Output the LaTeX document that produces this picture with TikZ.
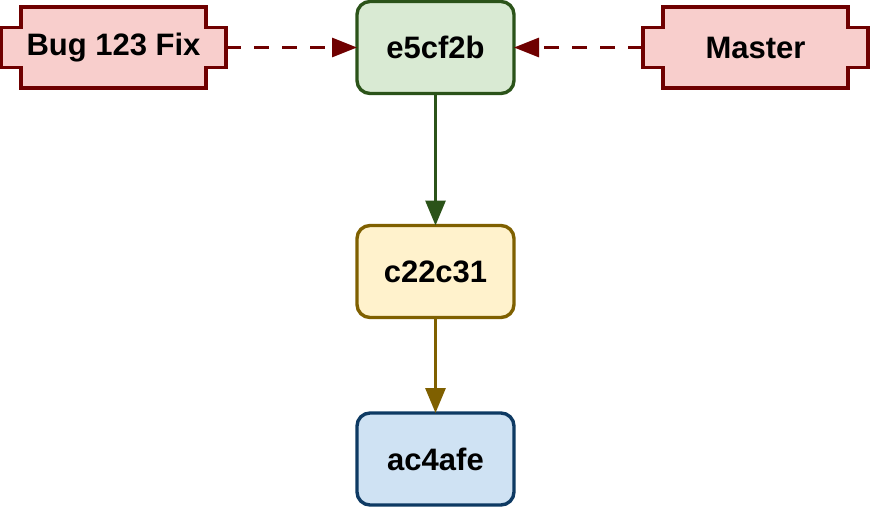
\documentclass[tikz,border=0pt]{standalone}
\usepackage{fontspec}
\setmainfont{Liberation Sans}
\usetikzlibrary{arrows.meta,backgrounds}
\definecolor{redfill}{HTML}{F8CECC}
\definecolor{redline}{HTML}{6F0000}
\definecolor{greenfill}{HTML}{D9EAD3}
\definecolor{greenline}{HTML}{2B5319}
\definecolor{yellowfill}{HTML}{FFF2CC}
\definecolor{yellowline}{HTML}{7F6000}
\definecolor{bluefill}{HTML}{CFE2F3}
\definecolor{blueline}{HTML}{0E3A63}
\tikzset{
  labeltext/.style={font=\fontsize{31}{36}\selectfont\bfseries, text=black},
  commitbox/.style={labeltext, rectangle, rounded corners=13pt, line width=3.4pt,
    minimum width=157pt, minimum height=92pt, inner sep=0pt, outer sep=0pt},
  branchnode/.style={labeltext, rectangle, minimum width=225pt, minimum height=81pt,
    inner sep=0pt, outer sep=0pt},
  branchshape/.style={fill=redfill, draw=redline, line width=3.4pt, line join=miter},
  refarrow/.style={draw=redline, line width=3pt, dash pattern=on 15pt off 13pt,
    -{Triangle[length=25pt,width=19pt]}},
  parentarrow/.style={line width=3pt, -{Triangle[length=25pt,width=20pt]}},
}
\newcommand{\branchoutline}[1]{%
  \path[branchshape] ([xshift=20pt]#1.north west) -- ([xshift=-20pt]#1.north east)
    -- ([xshift=-20pt,yshift=20pt]#1.east) -- ([yshift=20pt]#1.east)
    -- ([yshift=-20pt]#1.east) -- ([xshift=-20pt,yshift=-20pt]#1.east)
    -- ([xshift=-20pt]#1.south east) -- ([xshift=20pt]#1.south west)
    -- ([xshift=20pt,yshift=-20pt]#1.west) -- ([yshift=-20pt]#1.west)
    -- ([yshift=20pt]#1.west) -- ([xshift=20pt,yshift=20pt]#1.west) -- cycle;}
\begin{document}
\begin{tikzpicture}[x=1pt,y=-1pt]
\useasboundingbox (0,0) rectangle (870,507);
\node[branchnode] (bug) at (113.5,47.5) {Bug 123 Fix};
\node[branchnode] (master) at (755.5,47.5) {Master};
\begin{scope}[on background layer]
  \branchoutline{bug}
  \branchoutline{master}
\end{scope}
\node[commitbox, fill=greenfill, draw=greenline] (e5) at (435.5,47.5) {e5cf2b};
\node[commitbox, fill=yellowfill, draw=yellowline] (c22) at (435.5,271.5) {c22c31};
\node[commitbox, fill=bluefill, draw=blueline] (ac4) at (435.5,459) {ac4afe};
\draw[refarrow] (bug.east) -- (e5.west);
\draw[refarrow] (master.west) -- (e5.east);
\draw[parentarrow, draw=greenline, fill=greenline] (e5.south) -- (c22.north);
\draw[parentarrow, draw=yellowline, fill=yellowline] (c22.south) -- (ac4.north);
\end{tikzpicture}
\end{document}
